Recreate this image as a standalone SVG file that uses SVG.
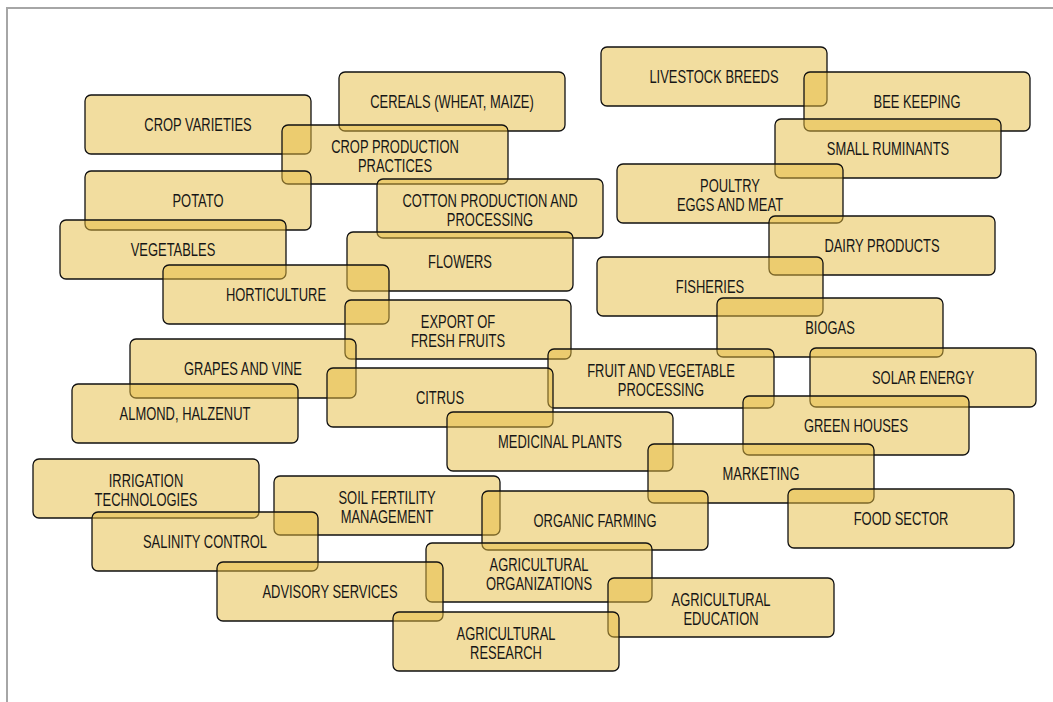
<svg xmlns="http://www.w3.org/2000/svg" width="1053" height="702" viewBox="0 0 1053 702">
<style>
.node rect{fill:#E6BC40;fill-opacity:0.5;stroke:#111;stroke-width:1.3}
.node text{font-family:"Liberation Sans",Arial,sans-serif;font-size:17.5px;text-anchor:middle;fill:#161616}
.frame{fill:none;stroke:#A6A6A6;stroke-width:2}
</style>
<rect width="1053" height="702" fill="#fff"/>
<path class="frame" d="M7,702 V8 H1053"/>
<g id="connectors"/>
<g id="livestock-breeds" class="node"><rect x="601" y="47" width="226" height="59" rx="6"/><text transform="matrix(0.74 0 0 1 714 0)" y="83.5">LIVESTOCK BREEDS</text></g>
<g id="cereals" class="node"><rect x="339" y="72" width="226" height="59" rx="6"/><text transform="matrix(0.74 0 0 1 452 0)" y="108.5">CEREALS (WHEAT, MAIZE)</text></g>
<g id="bee-keeping" class="node"><rect x="804" y="72" width="226" height="59" rx="6"/><text transform="matrix(0.74 0 0 1 917 0)" y="108.5">BEE KEEPING</text></g>
<g id="crop-varieties" class="node"><rect x="85" y="95" width="226" height="59" rx="6"/><text transform="matrix(0.74 0 0 1 198 0)" y="131.5">CROP VARIETIES</text></g>
<g id="small-ruminants" class="node"><rect x="775" y="119" width="226" height="59" rx="6"/><text transform="matrix(0.74 0 0 1 888 0)" y="155.5">SMALL RUMINANTS</text></g>
<g id="crop-production" class="node"><rect x="282" y="125" width="226" height="59" rx="6"/><text transform="matrix(0.74 0 0 1 395 0)" y="153">CROP PRODUCTION</text><text transform="matrix(0.74 0 0 1 395 0)" y="172">PRACTICES</text></g>
<g id="poultry" class="node"><rect x="617" y="164" width="226" height="59" rx="6"/><text transform="matrix(0.74 0 0 1 730 0)" y="192">POULTRY</text><text transform="matrix(0.74 0 0 1 730 0)" y="211">EGGS AND MEAT</text></g>
<g id="potato" class="node"><rect x="85" y="171" width="226" height="59" rx="6"/><text transform="matrix(0.74 0 0 1 198 0)" y="207.5">POTATO</text></g>
<g id="cotton" class="node"><rect x="377" y="179" width="226" height="59" rx="6"/><text transform="matrix(0.74 0 0 1 490 0)" y="207">COTTON PRODUCTION AND</text><text transform="matrix(0.74 0 0 1 490 0)" y="226">PROCESSING</text></g>
<g id="dairy-products" class="node"><rect x="769" y="216" width="226" height="59" rx="6"/><text transform="matrix(0.74 0 0 1 882 0)" y="252.5">DAIRY PRODUCTS</text></g>
<g id="vegetables" class="node"><rect x="60" y="220" width="226" height="59" rx="6"/><text transform="matrix(0.74 0 0 1 173 0)" y="256.5">VEGETABLES</text></g>
<g id="flowers" class="node"><rect x="347" y="232" width="226" height="59" rx="6"/><text transform="matrix(0.74 0 0 1 460 0)" y="268.5">FLOWERS</text></g>
<g id="fisheries" class="node"><rect x="597" y="257" width="226" height="59" rx="6"/><text transform="matrix(0.74 0 0 1 710 0)" y="293.5">FISHERIES</text></g>
<g id="horticulture" class="node"><rect x="163" y="265" width="226" height="59" rx="6"/><text transform="matrix(0.74 0 0 1 276 0)" y="301.5">HORTICULTURE</text></g>
<g id="biogas" class="node"><rect x="717" y="298" width="226" height="59" rx="6"/><text transform="matrix(0.74 0 0 1 830 0)" y="334.5">BIOGAS</text></g>
<g id="export-fresh-fruits" class="node"><rect x="345" y="300" width="226" height="59" rx="6"/><text transform="matrix(0.74 0 0 1 458 0)" y="328">EXPORT OF</text><text transform="matrix(0.74 0 0 1 458 0)" y="347">FRESH FRUITS</text></g>
<g id="grapes-vine" class="node"><rect x="130" y="339" width="226" height="59" rx="6"/><text transform="matrix(0.74 0 0 1 243 0)" y="375.5">GRAPES AND VINE</text></g>
<g id="solar-energy" class="node"><rect x="810" y="348" width="226" height="59" rx="6"/><text transform="matrix(0.74 0 0 1 923 0)" y="384.5">SOLAR ENERGY</text></g>
<g id="fruit-veg-processing" class="node"><rect x="548" y="349" width="226" height="59" rx="6"/><text transform="matrix(0.74 0 0 1 661 0)" y="377">FRUIT AND VEGETABLE</text><text transform="matrix(0.74 0 0 1 661 0)" y="396">PROCESSING</text></g>
<g id="citrus" class="node"><rect x="327" y="368" width="226" height="59" rx="6"/><text transform="matrix(0.74 0 0 1 440 0)" y="404.5">CITRUS</text></g>
<g id="almond" class="node"><rect x="72" y="384" width="226" height="59" rx="6"/><text transform="matrix(0.74 0 0 1 185 0)" y="420.5">ALMOND, HALZENUT</text></g>
<g id="green-houses" class="node"><rect x="743" y="396" width="226" height="59" rx="6"/><text transform="matrix(0.74 0 0 1 856 0)" y="432.5">GREEN HOUSES</text></g>
<g id="medicinal-plants" class="node"><rect x="447" y="412" width="226" height="59" rx="6"/><text transform="matrix(0.74 0 0 1 560 0)" y="448.5">MEDICINAL PLANTS</text></g>
<g id="marketing" class="node"><rect x="648" y="444" width="226" height="59" rx="6"/><text transform="matrix(0.74 0 0 1 761 0)" y="480.5">MARKETING</text></g>
<g id="irrigation" class="node"><rect x="33" y="459" width="226" height="59" rx="6"/><text transform="matrix(0.74 0 0 1 146 0)" y="487">IRRIGATION</text><text transform="matrix(0.74 0 0 1 146 0)" y="506">TECHNOLOGIES</text></g>
<g id="soil-fertility" class="node"><rect x="274" y="476" width="226" height="59" rx="6"/><text transform="matrix(0.74 0 0 1 387 0)" y="504">SOIL FERTILITY</text><text transform="matrix(0.74 0 0 1 387 0)" y="523">MANAGEMENT</text></g>
<g id="food-sector" class="node"><rect x="788" y="489" width="226" height="59" rx="6"/><text transform="matrix(0.74 0 0 1 901 0)" y="525.5">FOOD SECTOR</text></g>
<g id="organic-farming" class="node"><rect x="482" y="491" width="226" height="59" rx="6"/><text transform="matrix(0.74 0 0 1 595 0)" y="527.5">ORGANIC FARMING</text></g>
<g id="salinity-control" class="node"><rect x="92" y="512" width="226" height="59" rx="6"/><text transform="matrix(0.74 0 0 1 205 0)" y="548.5">SALINITY CONTROL</text></g>
<g id="agri-organizations" class="node"><rect x="426" y="543" width="226" height="59" rx="6"/><text transform="matrix(0.74 0 0 1 539 0)" y="571">AGRICULTURAL</text><text transform="matrix(0.74 0 0 1 539 0)" y="590">ORGANIZATIONS</text></g>
<g id="advisory-services" class="node"><rect x="217" y="562" width="226" height="59" rx="6"/><text transform="matrix(0.74 0 0 1 330 0)" y="598.5">ADVISORY SERVICES</text></g>
<g id="agri-education" class="node"><rect x="608" y="578" width="226" height="59" rx="6"/><text transform="matrix(0.74 0 0 1 721 0)" y="606">AGRICULTURAL</text><text transform="matrix(0.74 0 0 1 721 0)" y="625">EDUCATION</text></g>
<g id="agri-research" class="node"><rect x="393" y="612" width="226" height="59" rx="6"/><text transform="matrix(0.74 0 0 1 506 0)" y="640">AGRICULTURAL</text><text transform="matrix(0.74 0 0 1 506 0)" y="659">RESEARCH</text></g>
</svg>
